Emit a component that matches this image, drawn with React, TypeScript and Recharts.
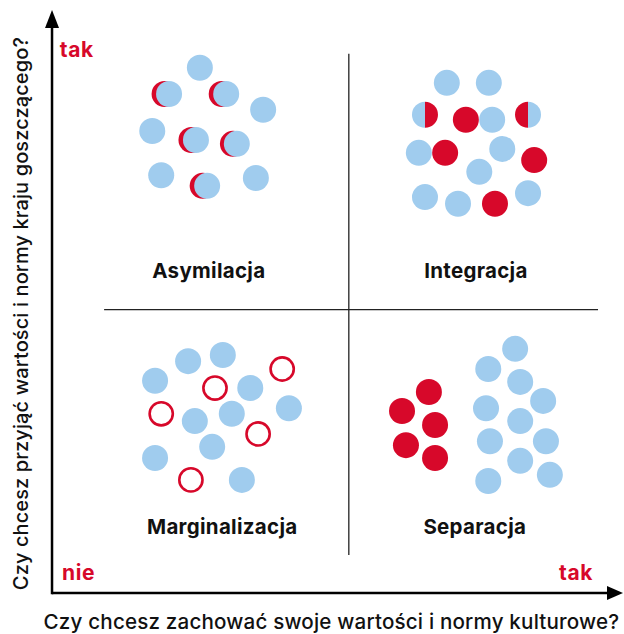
import React from 'react';
import { ScatterChart, Scatter, XAxis, YAxis, ReferenceLine } from 'recharts';

const BLUE = '#A0CCEE';
const RED = '#D7082A';
const INK = '#111111';
const FONT = 'Inter, "Noto Sans", sans-serif';

// Asymilacja: blue circles with a red circle peeking out on the left
const asymBlue = [
  { x: 26.4, y: 93.8 }, { x: 20.9, y: 89.1 }, { x: 31.1, y: 89.1 }, { x: 37.7, y: 86.3 },
  { x: 17.9, y: 82.5 }, { x: 25.7, y: 80.9 }, { x: 33.0, y: 80.2 }, { x: 19.5, y: 74.6 },
  { x: 27.7, y: 72.7 }, { x: 36.4, y: 74.1 },
];
const asymRed = [
  { x: 20.1, y: 89.1 }, { x: 30.3, y: 89.1 }, { x: 24.9, y: 80.9 }, { x: 32.3, y: 80.2 },
  { x: 26.9, y: 72.7 },
];

// Integracja
const integBlue = [
  { x: 70.5, y: 91.1 }, { x: 78.0, y: 91.1 }, { x: 78.6, y: 84.5 }, { x: 65.5, y: 78.6 },
  { x: 80.4, y: 79.3 }, { x: 76.3, y: 75.2 }, { x: 66.6, y: 70.7 }, { x: 72.5, y: 69.5 },
  { x: 85.0, y: 71.4 },
];
const integRed = [
  { x: 73.9, y: 84.5 }, { x: 70.2, y: 78.6 }, { x: 86.1, y: 77.3 }, { x: 79.1, y: 69.5 },
];
const integHalfBlueRed = [{ x: 66.6, y: 85.4 }];
const integHalfRedBlue = [{ x: 85.0, y: 85.4 }];

// Marginalizacja
const margBlue = [
  { x: 24.3, y: 41.4 }, { x: 30.5, y: 42.5 }, { x: 18.4, y: 37.9 }, { x: 35.4, y: 36.6 },
  { x: 42.3, y: 33.0 }, { x: 25.5, y: 30.7 }, { x: 32.1, y: 32.0 }, { x: 28.6, y: 26.1 },
  { x: 18.4, y: 24.1 }, { x: 33.9, y: 20.2 },
];
const margRing = [
  { x: 41.1, y: 40.0 }, { x: 29.1, y: 36.6 }, { x: 19.5, y: 32.0 }, { x: 36.8, y: 28.4 },
  { x: 24.8, y: 20.2 },
];

// Separacja
const sepRed = [
  { x: 67.3, y: 35.9 }, { x: 62.5, y: 32.5 }, { x: 68.4, y: 30.0 }, { x: 63.2, y: 26.4 },
  { x: 68.4, y: 24.1 },
];
const sepBlue = [
  { x: 82.7, y: 43.6 }, { x: 77.9, y: 40.0 }, { x: 83.6, y: 37.7 }, { x: 87.7, y: 34.3 },
  { x: 77.5, y: 33.0 }, { x: 83.6, y: 30.7 }, { x: 78.2, y: 27.1 }, { x: 88.2, y: 27.1 },
  { x: 83.6, y: 23.6 }, { x: 77.9, y: 20.0 }, { x: 88.9, y: 21.1 },
];

const quadrantLabels = [
  { x: 28.0, y: 56.2, text: 'Asymilacja' },
  { x: 75.7, y: 56.2, text: 'Integracja' },
  { x: 30.4, y: 10.5, text: 'Marginalizacja' },
  { x: 75.5, y: 10.5, text: 'Separacja' },
];
const cornerStart = [
  { x: 1.4, y: 95.7, text: 'tak' },
  { x: 1.8, y: 2.3, text: 'nie' },
];
const cornerEnd = [{ x: 96.6, y: 2.3, text: 'tak' }];
const xTitle = [{ x: 49.9, y: -6.4, text: 'Czy chcesz zachować swoje wartości i normy kulturowe?' }];
const yTitle = [{ x: -4.3, y: 49.9, text: 'Czy chcesz przyjąć wartości i normy kraju goszczącego?' }];

const xAxisArrow = [{ x: 0, y: 0 }, { x: 101.96, y: 0 }];
const yAxisArrow = [{ x: 0, y: 0 }, { x: 0, y: 104.1 }];
const vDivider = [{ x: 53.0, y: 6.8 }, { x: 53.0, y: 96.3 }];
const hDivider = [{ x: 9.3, y: 50.6 }, { x: 97.5, y: 50.6 }];

const R = 13;

const filled = (fill: string) => (p: any) => <circle cx={p.cx} cy={p.cy} r={R} fill={fill} />;
const ring = (p: any) => (
  <circle cx={p.cx} cy={p.cy} r={R - 1.4} fill="#fff" stroke={RED} strokeWidth={2.6} />
);
const half = (left: string, right: string) => (p: any) => (
  <g>
    <path d={`M${p.cx},${p.cy - R} A${R},${R} 0 0 0 ${p.cx},${p.cy + R} Z`} fill={left} />
    <path d={`M${p.cx},${p.cy - R} A${R},${R} 0 0 1 ${p.cx},${p.cy + R} Z`} fill={right} />
  </g>
);
const label = (anchor: string, fill: string, size: number, weight: number, spacing = 0, rotate = false) => (p: any) => (
  <text
    x={p.cx}
    y={p.cy}
    textAnchor={anchor}
    fill={fill}
    fontFamily={FONT}
    fontSize={size}
    fontWeight={weight}
    letterSpacing={spacing}
    transform={rotate ? `rotate(-90 ${p.cx} ${p.cy})` : undefined}
  >
    {p.payload.text}
  </text>
);

const hArrow = (p: any) => (
  <g>
    <line x1={p.x1} y1={p.y1} x2={p.x2 - 12} y2={p.y2} stroke="#000" strokeWidth={2.5} />
    <polygon points={`${p.x2},${p.y2} ${p.x2 - 16},${p.y2 - 7} ${p.x2 - 16},${p.y2 + 7}`} fill="#000" />
  </g>
);
const vArrow = (p: any) => {
  const top = Math.min(p.y1, p.y2);
  const bottom = Math.max(p.y1, p.y2);
  return (
    <g>
      <line x1={p.x1} y1={bottom + 1.2} x2={p.x1} y2={top + 12} stroke="#000" strokeWidth={2.5} />
      <polygon points={`${p.x1},${top} ${p.x1 - 7},${top + 18} ${p.x1 + 7},${top + 18}`} fill="#000" />
    </g>
  );
};

export default function App() {
  return (
    <div style={{ position: 'absolute', left: 0, top: 0, background: '#fff' }}>
      <ScatterChart width={624} height={634} margin={{ top: 0, right: 0, bottom: 0, left: 0 }}>
        <XAxis type="number" dataKey="x" domain={[-9.29, 102.14]} hide allowDataOverflow />
        <YAxis type="number" dataKey="y" domain={[-7.32, 105.89]} hide allowDataOverflow />
        <ReferenceLine segment={vDivider} stroke="#222" strokeWidth={1.3} ifOverflow="visible" />
        <ReferenceLine segment={hDivider} stroke="#222" strokeWidth={1.3} ifOverflow="visible" />
        <ReferenceLine segment={xAxisArrow} ifOverflow="visible" shape={hArrow} />
        <ReferenceLine segment={yAxisArrow} ifOverflow="visible" shape={vArrow} />

        <Scatter data={asymRed} shape={filled(RED)} isAnimationActive={false} />
        <Scatter data={asymBlue} shape={filled(BLUE)} isAnimationActive={false} />
        <Scatter data={integBlue} shape={filled(BLUE)} isAnimationActive={false} />
        <Scatter data={integRed} shape={filled(RED)} isAnimationActive={false} />
        <Scatter data={integHalfBlueRed} shape={half(BLUE, RED)} isAnimationActive={false} />
        <Scatter data={integHalfRedBlue} shape={half(RED, BLUE)} isAnimationActive={false} />
        <Scatter data={margBlue} shape={filled(BLUE)} isAnimationActive={false} />
        <Scatter data={margRing} shape={ring} isAnimationActive={false} />
        <Scatter data={sepRed} shape={filled(RED)} isAnimationActive={false} />
        <Scatter data={sepBlue} shape={filled(BLUE)} isAnimationActive={false} />

        <Scatter data={quadrantLabels} shape={label('middle', INK, 20.5, 700, 0.3)} isAnimationActive={false} />
        <Scatter data={cornerStart} shape={label('start', RED, 21, 700, 0.6)} isAnimationActive={false} />
        <Scatter data={cornerEnd} shape={label('end', RED, 21, 700, 0.6)} isAnimationActive={false} />
        <Scatter data={xTitle} shape={label('middle', INK, 20.6, 500, 0.18)} isAnimationActive={false} />
        <Scatter data={yTitle} shape={label('middle', INK, 20, 500, 0.1, true)} isAnimationActive={false} />
      </ScatterChart>
    </div>
  );
}
